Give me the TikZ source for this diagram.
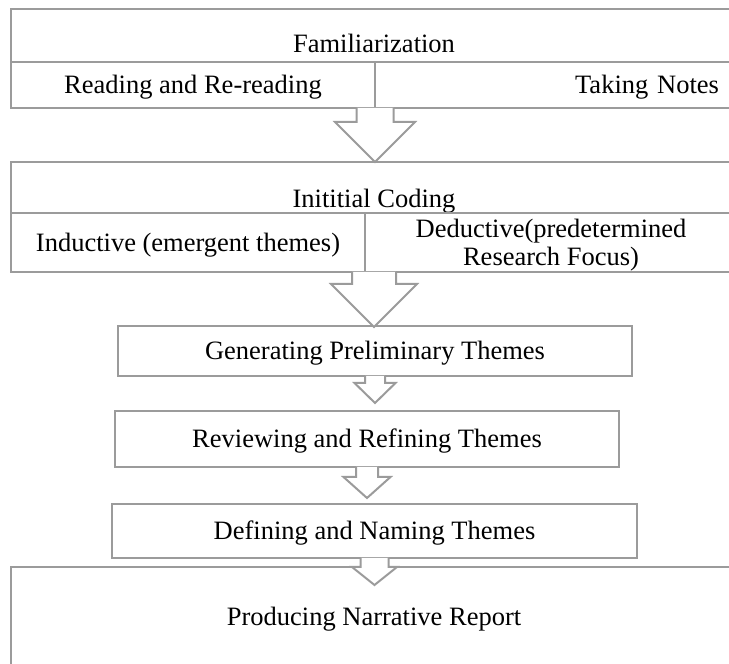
\documentclass[tikz,border=0pt]{standalone}
\usepackage{fontspec}
\setmainfont{Liberation Serif}
\usetikzlibrary{calc,positioning}
\definecolor{boxgray}{RGB}{155,155,155}

\begin{document}
\begin{tikzpicture}[x=1pt, y=1pt, font=\fontsize{26.5}{28}\selectfont]
    \tikzstyle{box} = [draw=boxgray, line width=2pt, outer sep=0pt, inner sep=0pt]
    \tikzstyle{celltext} = [text height=17.5pt, text depth=0pt]
    \tikzstyle{title} = [inner sep=0pt, text depth=0pt]
    \tikzstyle{arrowbody} = [draw=boxgray, line width=2pt, fill=white, line join=miter]

    % block arrow: start, shaft half width, head half width, shaft length, head length
    \def\blockarrow#1#2#3#4#5{%
        \draw [arrowbody] (#1) ++(-#2,0) -- ++(0,-#4) -- ++(#2-#3,0) -- ++(#3,-#5)
            -- ++(#3,#5) -- ++(#2-#3,0) -- ++(0,#4);
    }

    \path [use as bounding box, clip] (0,0) rectangle (729,664);

    % familiarization
    \node[box, anchor=north west] (fam) [minimum width=726pt, minimum height=53pt] at (11,655) {};
    \node[title, above=9pt of fam.south] (famtitle) {Familiarization};
    \node[box, celltext, anchor=north west] (famread) [minimum width=364pt, minimum height=46pt] at (fam.south west) {Reading and Re-reading};
    \node[box, celltext, anchor=north west] (famnotes) [minimum width=362pt, minimum height=46pt, text width=326pt, align=right] at (famread.north east) {Taking Notes};

    % coding
    \node[box, anchor=north west] (coding) [minimum width=726pt, minimum height=51pt] at (11,502) {};
    \node[title, above=5pt of coding.south] (codingtitle) {Inititial Coding};
    \node[box, celltext, anchor=north west] (codind) [minimum width=354pt, minimum height=59pt] at (coding.south west) {Inductive (emergent themes)};
    \node[box, anchor=north west] (codded) [minimum width=372pt, minimum height=59pt, align=center, text depth=0pt] at (codind.north east) {Deductive(predetermined\\Research Focus)};

    % themes
    \node[box, celltext] (gen) [minimum width=514pt, minimum height=50pt] at (375,313) {Generating Preliminary Themes};
    \node[box, celltext] (rev) [minimum width=504pt, minimum height=56pt, below=35pt of gen, xshift=-8pt] {Reviewing and Refining Themes};
    \node[box, celltext] (def) [minimum width=525pt, minimum height=54pt, below=37pt of rev, xshift=7.5pt] {Defining and Naming Themes};
    \node[box, celltext, anchor=north west] (prod) [minimum width=726pt, minimum height=100pt] at (11,97) {Producing Narrative Report};

    \blockarrow{famread.south east}{18.5}{40}{14}{40}
    \blockarrow{coding.south |- codind.south}{22}{43}{12}{43}
    \blockarrow{gen.south}{10}{20.5}{7}{20}
    \blockarrow{rev.south}{11}{23.5}{10}{21}
    \blockarrow{def.south}{14}{22.5}{9}{18}
\end{tikzpicture}
\end{document}
